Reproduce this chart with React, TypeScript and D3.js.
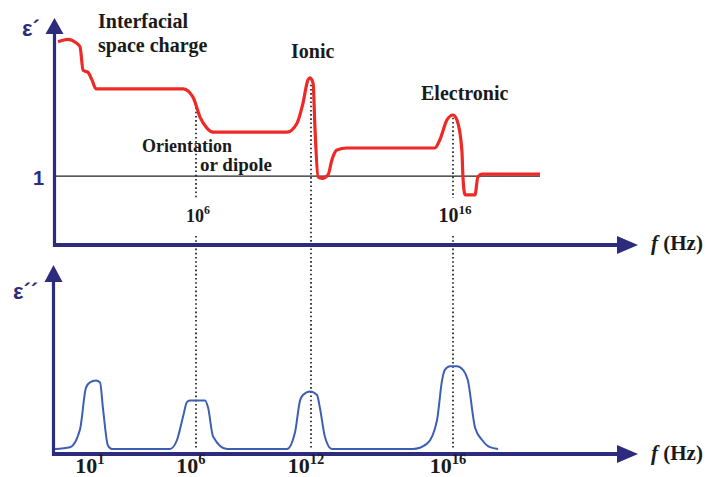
import React from 'react';
import * as d3 from 'd3';

// ---- data (x: log10 of frequency, schematic; y: permittivity, arbitrary units) ----
const tickExponents = [1, 6, 12, 16];
const topTickExponents = [6, 16];
const bottomTickExponents = [1, 6, 12, 16];

// real part ε' (red)
const realPart: [number, number][] = [
  [-0.83, 2.955], [-0.34, 2.99], [0.06, 2.94], [0.26, 2.88], [0.41, 2.54], [0.65, 2.51],
  [0.85, 2.4], [1.05, 2.27], [5.36, 2.27], [5.85, 2.15], [6.21, 1.86], [6.57, 1.7],
  [6.89, 1.64], [10.75, 1.64], [11.27, 1.77], [11.58, 2.06], [11.84, 2.4], [11.95, 2.43],
  [12.06, 2.35], [12.11, 1.72], [12.2, 0.99], [12.31, 0.97], [12.48, 1.02], [12.59, 1.24],
  [12.73, 1.38], [13.01, 1.41], [15.49, 1.41], [15.63, 1.53], [15.83, 1.82], [16.0, 1.89],
  [16.11, 1.82], [16.25, 1.38], [16.28, 0.99], [16.34, 0.73], [16.62, 0.73], [16.7, 0.99],
  [16.82, 1.03], [18.45, 1.03],
];

// imaginary part ε'' (blue)
const lossPart: [number, number][] = [
  [-0.98, 0], [-0.24, 0.01], [0.26, 0.11], [0.55, 0.34], [0.75, 0.37], [1.05, 0.38],
  [1.25, 0.37], [1.4, 0.22], [1.64, 0.02], [1.84, 0], [4.71, 0],
  [5.06, 0.05], [5.36, 0.18], [5.55, 0.26], [5.7, 0.27], [6.47, 0.27], [6.63, 0.23],
  [6.89, 0.07], [7.62, 0], [10.75, 0],
  [11.16, 0.09], [11.43, 0.27], [11.58, 0.3], [11.95, 0.32], [12.17, 0.3], [12.25, 0.23],
  [12.39, 0.07], [12.59, 0], [14.87, 0],
  [15.27, 0.03], [15.55, 0.16], [15.69, 0.38], [15.77, 0.44], [15.92, 0.46], [16.11, 0.46],
  [16.28, 0.44], [16.42, 0.38], [16.62, 0.12], [16.82, 0.05], [17.04, 0.01], [17.27, 0],
];

// guide lines: exponent and ε' value where the dotted line starts
const guideExponents = [6, 12, 16];
const guideStartValues = [2.06, 2.33, 1.85];
const referenceLevel = 1;
const referenceEnd = 18.45;

const NAVY = '#2d2b7d';
const RED = '#ee2a26';
const BLUE = '#3c5fb4';
const SERIF = '"Liberation Serif", "Times New Roman", serif';
const SANS = '"Liberation Sans", Arial, sans-serif';

function Pow({ x, y, exp, size, anchor = 'middle' }: { x: number; y: number; exp: number; size: number; anchor?: string }) {
  return (
    <text x={x} y={y} textAnchor={anchor as any} fontFamily={SERIF} fontWeight="bold" fontSize={size} fill="#1a1a1a">
      10
      <tspan dy={-size * 0.42} fontSize={size * 0.66}>{exp}</tspan>
    </text>
  );
}

export default function App() {
  const W = 714, H = 477;
  const x = d3.scaleLinear().domain(tickExponents).range([95, 196, 311, 453]);
  const yTop = d3.scaleLinear().domain([0, 3.3]).range([245, 18]);
  const yBot = d3.scaleLinear().domain([0, 1]).range([449, 269]);

  const axLeft = 54.5;
  const axRight = 638;
  const topAxisY = yTop(0);
  const botAxisY = yBot(0) + 5;

  const lineTop = d3.line<[number, number]>().x(d => x(d[0])).y(d => yTop(d[1])).curve(d3.curveMonotoneX);
  const lineBot = d3.line<[number, number]>().x(d => x(d[0])).y(d => yBot(d[1])).curve(d3.curveMonotoneX);

  const gapTop = 198, gapBottom = 236;

  return (
    <svg width={W} height={H} viewBox={`0 0 ${W} ${H}`} style={{ position: 'absolute', left: 0, top: 0, background: '#fff' }}>
      <rect width={W} height={H} fill="#fff" />

      {/* dotted guides */}
      {guideExponents.map((e, i) => {
        const gx = x(e);
        const hasLabel = topTickExponents.includes(e);
        const common = { stroke: '#111', strokeWidth: 1.6, strokeDasharray: '1.6 2.6', fill: 'none' };
        return hasLabel ? (
          <g key={e}>
            <line x1={gx} x2={gx} y1={yTop(guideStartValues[i])} y2={gapTop} {...common} />
            <line x1={gx} x2={gx} y1={gapBottom} y2={yBot(0)} {...common} />
          </g>
        ) : (
          <line key={e} x1={gx} x2={gx} y1={yTop(guideStartValues[i])} y2={yBot(0)} {...common} />
        );
      })}

      {/* reference level 1 */}
      <line x1={axLeft} x2={x(referenceEnd)} y1={yTop(referenceLevel)} y2={yTop(referenceLevel)} stroke="#222" strokeWidth={1.2} />

      {/* top axes */}
      <line x1={axLeft} x2={axLeft} y1={topAxisY + 2} y2={32} stroke={NAVY} strokeWidth={3.2} />
      <polygon points={`${axLeft},18 ${axLeft - 9},34 ${axLeft + 9},34`} fill={NAVY} />
      <line x1={axLeft - 1.5} x2={axRight - 18} y1={topAxisY} y2={topAxisY} stroke={NAVY} strokeWidth={4} />
      <polygon points={`${axRight},${topAxisY} ${axRight - 21},${topAxisY - 9} ${axRight - 21},${topAxisY + 9}`} fill={NAVY} />

      {/* bottom axes */}
      <line x1={axLeft - 1} x2={axLeft - 1} y1={botAxisY + 2} y2={280} stroke={NAVY} strokeWidth={3.2} />
      <polygon points={`${axLeft - 1},265 ${axLeft - 10},282 ${axLeft + 8},282`} fill={NAVY} />
      <line x1={axLeft - 2.5} x2={axRight - 18} y1={botAxisY} y2={botAxisY} stroke={NAVY} strokeWidth={4} />
      <polygon points={`${axRight},${botAxisY} ${axRight - 21},${botAxisY - 9} ${axRight - 21},${botAxisY + 9}`} fill={NAVY} />

      {/* curves */}
      <path d={lineTop(realPart) || ''} fill="none" stroke={RED} strokeWidth={3.2} strokeLinejoin="round" />
      <path d={lineBot(lossPart) || ''} fill="none" stroke={BLUE} strokeWidth={2} strokeLinejoin="round" />

      {/* axis titles */}
      <text x={22} y={36} fontFamily={SANS} fontWeight="bold" fontSize={22} fill={NAVY}>ε´</text>
      <text x={13} y={299} fontFamily={SANS} fontWeight="bold" fontSize={22} fill={NAVY}>ε´´</text>
      <text x={44} y={185} textAnchor="end" fontFamily={SANS} fontWeight="bold" fontSize={20} fill={NAVY}>1</text>
      {[topAxisY + 5, botAxisY + 6].map((yy, i) => (
        <text key={i} x={651} y={yy} fontFamily={SERIF} fontWeight="bold" fontSize={21} fill="#1a1a1a">
          <tspan fontStyle="italic">f</tspan> (Hz)
        </text>
      ))}

      {/* tick labels */}
      {topTickExponents.map(e => (
        <Pow key={e} x={x(e) + 2} y={222} exp={e} size={e === 6 ? 18 : 20} />
      ))}
      {bottomTickExponents.map(e => (
        <Pow key={e} x={x(e) - 5} y={473} exp={e} size={22} />
      ))}

      {/* mechanism labels */}
      <g fontFamily={SERIF} fontWeight="bold" fill="#1a1a1a" fontSize={20}>
        <text x={98} y={28}>Interfacial</text>
        <text x={98} y={52}>space charge</text>
        <text x={291} y={58}>Ionic</text>
        <text x={421} y={100}>Electronic</text>
        <text x={142} y={152} fontSize={18}>Orientation</text>
        <text x={200} y={171} fontSize={19}>or dipole</text>
      </g>
    </svg>
  );
}
